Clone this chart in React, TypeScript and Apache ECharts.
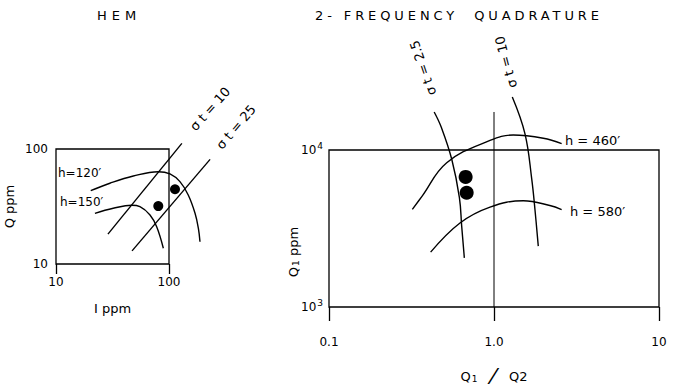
import React, { useEffect, useRef } from "react";
import * as echarts from "echarts";

// ---------- HEM panel (I ppm vs Q ppm) ----------
const hemH120I = [20.3, 30.0, 48.3, 80.4, 102, 125, 148, 170, 182, 188];
const hemH120Q = [43.4, 50.4, 58.2, 63.5, 60.7, 52.0, 39.8, 27.6, 20.4, 15.6];
const hemH150I = [22.1, 32.1, 46.8, 55.3, 67.9, 77.8, 89.1];
const hemH150Q = [27.6, 30.5, 32.4, 31.5, 26.7, 21.1, 13.7];
const hemSig10I = [28.8, 130];
const hemSig10Q = [18.2, 112];
const hemSig25I = [47.1, 231];
const hemSig25Q = [13.0, 81.3];
const hemDotsI = [80.4, 113];
const hemDotsQ = [31.9, 44.7];

// ---------- 2-frequency quadrature panel (Q1/Q2 vs Q1 ppm) ----------
const qSig25R = [0.434, 0.48, 0.555, 0.617, 0.637, 0.661];
const qSig25Q = [17470, 13900, 8700, 4980, 3275, 2057];
const qSig10R = [1.291, 1.541, 1.692, 1.772, 1.855];
const qSig10Q = [21770, 12680, 6580, 4150, 2443];
const qH460R = [0.32, 0.365, 0.517, 0.946, 1.309, 1.99, 2.57];
const qH460Q = [4190, 5050, 8300, 11500, 12450, 11880, 10980];
const qH580R = [0.413, 0.622, 0.946, 1.506, 2.18, 2.57];
const qH580Q = [2236, 3430, 4330, 4750, 4430, 4170];
const qDotsR = [0.673, 0.683];
const qDotsQ = [6740, 5340];
const unitLineR = [1, 1];
const unitLineQ = [17460, 1000];

const FONT = "'DejaVu Sans', 'Liberation Sans', sans-serif";
const INK = "#000";

const pairs = (xs: number[], ys: number[]) => xs.map((x, i) => [x, ys[i]]);

const curve = (xi: number, yi: number, xs: number[], ys: number[], smooth: number | boolean) => ({
  type: "line",
  xAxisIndex: xi,
  yAxisIndex: yi,
  data: pairs(xs, ys),
  smooth,
  symbol: "none",
  clip: false,
  silent: true,
  lineStyle: { color: INK, width: 1.4 },
});

const dots = (xi: number, yi: number, xs: number[], ys: number[], size: number) => ({
  type: "scatter",
  xAxisIndex: xi,
  yAxisIndex: yi,
  data: pairs(xs, ys),
  symbol: "circle",
  symbolSize: size,
  clip: false,
  itemStyle: { color: "#000", opacity: 1 },
});

const label = (text: string, x: number, y: number, rotation = 0, align = "center", size = 12) => ({
  type: "text",
  x,
  y,
  rotation,
  style: {
    text,
    fontSize: size,
    fontFamily: FONT,
    fill: INK,
    align,
    verticalAlign: "middle",
  },
});

const hidden = { show: false };

export default function App() {
  const ref = useRef<HTMLDivElement>(null);

  useEffect(() => {
    if (!ref.current) return;
    const chart = echarts.init(ref.current, undefined, { renderer: "svg" });
    const axisLbl = { color: INK, fontSize: 12, fontFamily: FONT };
    chart.setOption({
      animation: false,
      backgroundColor: "#fff",
      textStyle: { fontFamily: FONT, color: INK },
      grid: [
        // HEM frame (10..100 on both axes)
        { left: 56, top: 149, width: 113, height: 115, show: true, borderColor: INK, borderWidth: 1.3 },
        // HEM drawing area, same scale, wider extent (10..1000 on both axes)
        { left: 56, top: 34, width: 226, height: 230, show: false },
        // quadrature frame
        { left: 329, top: 150, width: 330, height: 165, show: true, borderColor: INK, borderWidth: 1.3 },
      ],
      xAxis: [
        {
          gridIndex: 0,
          type: "log",
          logBase: 10,
          min: 10,
          max: 100,
          axisLine: { show: false },
          axisTick: { show: true, inside: false, length: 10, lineStyle: { color: INK, width: 1.3 } },
          splitLine: { show: false },
          axisLabel: { ...axisLbl, margin: 12, formatter: (v: number) => String(Math.round(v)) },
          name: "I ppm",
          nameLocation: "middle",
          nameGap: 38,
          nameTextStyle: { fontSize: 13, color: INK, fontFamily: FONT },
        },
        {
          gridIndex: 1,
          type: "log",
          logBase: 10,
          min: 10,
          max: 1000,
          show: false,
          axisLine: hidden,
          axisTick: hidden,
          axisLabel: hidden,
          splitLine: hidden,
        },
        {
          gridIndex: 2,
          type: "log",
          logBase: 10,
          min: 0.1,
          max: 10,
          axisLine: { show: false },
          axisTick: { show: true, inside: false, length: 14, lineStyle: { color: INK, width: 1.3 } },
          splitLine: { show: false },
          axisLabel: {
            ...axisLbl,
            margin: 29,
            formatter: (v: number) => (v < 0.5 ? "0.1" : v < 5 ? "1.0" : "10"),
          },
          name: "{q|Q}{s|1}{sl|  ⁄  }{q|Q2}",
          nameLocation: "middle",
          nameGap: 58,
          nameTextStyle: {
            color: INK,
            fontFamily: FONT,
            rich: {
              q: { fontSize: 13, fontFamily: FONT, color: INK },
              s: { fontSize: 9, fontFamily: FONT, color: INK, padding: [6, 0, 0, 1] },
              sl: { fontSize: 22, fontFamily: FONT, color: INK },
            },
          },
        },
      ],
      yAxis: [
        {
          gridIndex: 0,
          type: "log",
          logBase: 10,
          min: 10,
          max: 100,
          axisLine: { show: false },
          axisTick: { show: false },
          splitLine: { show: false },
          axisLabel: { ...axisLbl, margin: 8, formatter: (v: number) => String(Math.round(v)) },
          name: "Q ppm",
          nameLocation: "middle",
          nameGap: 40,
          nameRotate: 90,
          nameTextStyle: { fontSize: 13, color: INK, fontFamily: FONT },
        },
        {
          gridIndex: 1,
          type: "log",
          logBase: 10,
          min: 10,
          max: 1000,
          show: false,
          axisLine: hidden,
          axisTick: hidden,
          axisLabel: hidden,
          splitLine: hidden,
        },
        {
          gridIndex: 2,
          type: "log",
          logBase: 10,
          min: 1000,
          max: 10000,
          axisLine: { show: false },
          axisTick: { show: false },
          splitLine: { show: false },
          axisLabel: {
            margin: 6,
            formatter: (v: number) => `{b|10}{s|${Math.round(Math.log10(v))}}`,
            rich: {
              b: { fontSize: 12, fontFamily: FONT, color: INK },
              s: { fontSize: 9, fontFamily: FONT, color: INK, padding: [0, 0, 8, 1] },
            },
          },
        },
      ],
      series: [
        curve(1, 1, hemH120I, hemH120Q, 0.4),
        curve(1, 1, hemH150I, hemH150Q, 0.4),
        curve(1, 1, hemSig10I, hemSig10Q, false),
        curve(1, 1, hemSig25I, hemSig25Q, false),
        dots(1, 1, hemDotsI, hemDotsQ, 10),
        curve(2, 2, qSig25R, qSig25Q, 0.4),
        curve(2, 2, qSig10R, qSig10Q, 0.4),
        curve(2, 2, qH460R, qH460Q, 0.4),
        curve(2, 2, qH580R, qH580Q, 0.4),
        { ...curve(2, 2, unitLineR, unitLineQ, false), lineStyle: { color: INK, width: 1 } },
        dots(2, 2, qDotsR, qDotsQ, 14),
      ],
      graphic: [
        label("h=120′", 58, 173, 0, "left"),
        label("h=150′", 60, 202, 0, "left"),
        label("σ t = 10", 210, 109, 0.84, "center", 13),
        label("σ t = 25", 236, 127, 0.87, "center", 13),
        label("σ t = 2.5", 423, 68, 1.9, "center", 13),
        label("σ t = 10", 506, 62, 1.83, "center", 13),
        label("h = 460′", 565, 140, 0, "left", 13),
        label("h = 580′", 570, 211, 0, "left", 13),
        {
          type: "text",
          x: 293,
          y: 252,
          rotation: Math.PI / 2,
          style: {
            text: "{q|Q}{s|1}{q| ppm}",
            align: "center",
            verticalAlign: "middle",
            rich: {
              q: { fontSize: 13, fontFamily: FONT, fill: INK },
              s: { fontSize: 9, fontFamily: FONT, fill: INK, padding: [6, 0, 0, 1] },
            },
          },
        },
      ],
    });
    return () => chart.dispose();
  }, []);

  const titleStyle: React.CSSProperties = {
    position: "absolute",
    top: 8,
    fontFamily: FONT,
    fontSize: 13,
    color: INK,
    whiteSpace: "pre",
    lineHeight: "16px",
  };

  return (
    <div style={{ position: "fixed", left: 0, top: 0, width: 678, height: 388, background: "#fff" }}>
      <div ref={ref} style={{ position: "absolute", left: 0, top: 0, width: 678, height: 388 }} />
      <div style={{ ...titleStyle, left: 97, letterSpacing: "5px" }}>HEM</div>
      <div style={{ ...titleStyle, left: 315, letterSpacing: "3.9px" }}>2- FREQUENCY  QUADRATURE</div>
    </div>
  );
}
